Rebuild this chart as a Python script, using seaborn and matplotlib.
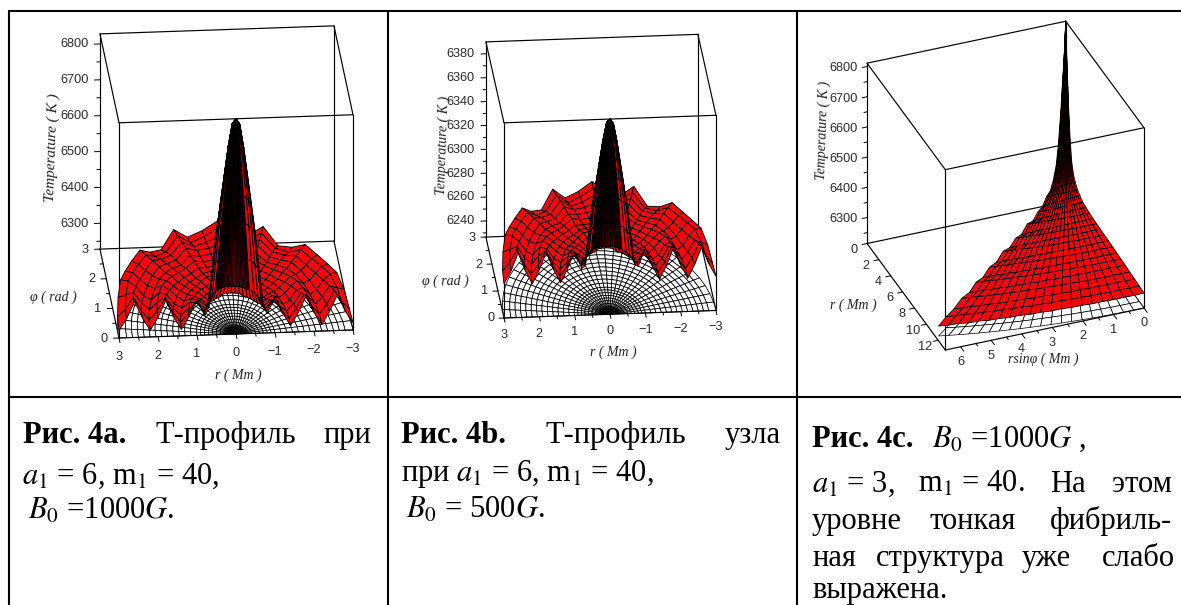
import numpy as np
import matplotlib
matplotlib.use("Agg")
import matplotlib.pyplot as plt
import seaborn as sns
from mpl_toolkits.mplot3d import proj3d

sns.set_theme(style="white")
plt.rcParams["font.family"] = ["Liberation Serif", "DejaVu Sans"]
plt.rcParams["mathtext.fontset"] = "stix"

W, H, DPI = 1181, 605, 100

# ---- values -----------------------------------------------------------
R_NODES = [0, .1, .2, .3, .4, .5, .6, .7, .8, 1.0, 1.2, 1.4, 1.6, 1.8, 2.0, 2.2, 2.4, 2.6, 2.8, 3.0]
PHI_NODES = [0, 7.5, 15, 22.5, 30, 37.5, 45, 52.5, 60, 67.5, 75, 82.5, 90]
# central spike: fraction of the height above the surface level, against radius
CORE = [1, .97, .86, .72, .58, .44, .26, .10, .02, 0, 0, 0, 0, 0, 0, 0, 0, 0, 0, 0]
# fibril relief (rows: angle, columns: radius)
RELIEF = [
    [.3, .3, .3, .3, .2, .1, 0, .2, .7, 1.6, .7, 0, .7, 1.6, .7, 0, .7, 1.6, .7, .05],
    [.3, .3, .3, .3, .2, .1, .1, .3, .7, 1.3, .6, .1, .6, 1.3, .6, .1, .6, 1.3, .6, .17],
    [.3, .3, .3, .3, .2, .2, .2, .3, .6, 1.0, .6, .2, .5, 1.0, .7, .2, .5, 1.0, .8, .6],
    [.4, .4, .4, .3, .3, .2, .2, .4, .6, .8, .7, .3, .4, .8, .8, .3, .4, .8, 1.0, .95],
    [.4, .4, .4, .4, .3, .3, .3, .4, .6, .7, .7, .4, .5, .7, .8, .5, .5, .7, .9, .85],
    [.4, .4, .4, .4, .3, .3, .3, .4, .5, .6, .6, .5, .5, .6, .7, .6, .6, .7, .85, .85],
    [.4, .4, .4, .4, .3, .3, .3, .4, .5, .6, .6, .5, .5, .5, .6, .6, .7, .8, .9, .95],
    [.4, .4, .4, .4, .4, .3, .3, .4, .5, .6, .6, .5, .5, .5, .5, .5, .5, .5, .4, .4],
    [.4, .4, .4, .4, .4, .3, .3, .4, .5, .6, .6, .6, .5, .5, .5, .4, .4, .4, .3, .15],
    [.5, .5, .4, .4, .4, .4, .4, .4, .5, .6, .7, .7, .6, .6, .7, .7, .8, .85, .9, .95],
    [.5, .5, .4, .4, .4, .4, .4, .5, .6, .6, .7, .7, .6, .5, .5, .5, .5, .4, .3, .3],
    [.5, .5, .5, .4, .4, .4, .4, .5, .6, .7, .7, .7, .6, .5, .5, .5, .5, .5, .5, .5],
    [.5, .5, .5, .5, .4, .4, .4, .5, .6, .7, .7, .7, .6, .6, .6, .6, .7, .8, .9, .95],
]
A_BASE, A_AMP = .03, .085
B_BASE, B_AMP = .17, .10
A_ZTICKS = [6300, 6400, 6500, 6600, 6700, 6800]
A_ZMINOR = [6250, 6350, 6450, 6550, 6650, 6750]
B_ZTICKS = [6240, 6260, 6280, 6300, 6320, 6340, 6360, 6380]
B_ZMINOR = [6230, 6250, 6270, 6290, 6310, 6330, 6350, 6370]
A_ZLIM = (6228, 6828)
B_ZLIM = (6226.5, 6390)
AB_XTICKS = [3, 2, 1, 0, -1, -2, -3]
AB_YTICKS = [0, 1, 2, 3]

C_R = [0, .125, .25, .375, .5, .75, 1, 1.3, 1.6, 2, 2.4, 2.9, 3.4, 4, 4.6, 5.2, 5.8, 6.5, 7.2, 7.9, 8.6, 9.3,
       10, 10.8, 11.6, 12.4, 13.2]
C_HEIGHT = [1.0, .86, .75, .65, .54, .38, .27, .21, .18, .155, .14, .125, .12, .116, .112, .11, .108, .106,
            .105, .103, .10, .098, .096, .093, .09, .087, .083]
C_RING_AMP = [0, 0, 0, 0, 0, .01, .015, .02, .03, .015, .03, .02, .035, .015, .035, .02, .035, .015, .035,
              .02, .035, .02, .035, .02, .03, .025, .028]
C_PHI = [0, 1.45, 2.9, 4.35, 5.8, 7.25, 8.7, 10.15, 11.6, 13.05, 14.5, 15.95, 17.4, 18.85, 20.3, 21.75,
         23.2, 24.65, 26.1, 27.55, 29]
C_RAY_WAVE = [0, -.05, 0, -.1, -.05, -.15, -.1, -.2, -.15, -.3, -.25, -.4, -.35, -.5, -.5, -.65, -.6, -.8, -.75, -.95, -1.0]
C_ZTICKS = [6300, 6400, 6500, 6600, 6700, 6800]
C_ZMINOR = [6250, 6350, 6450, 6550, 6650, 6750]
C_ZLIM = (6214, 6811)
C_XTICKS = [6, 5, 4, 3, 2, 1, 0]
C_YTICKS = [0, 2, 4, 6, 8, 10, 12]

fig = plt.figure(figsize=(W / DPI, H / DPI), dpi=DPI)

# ---- page / table ------------------------------------------------------
bg = fig.add_axes([0, 0, 1, 1], zorder=0)
bg.set_xlim(0, W)
bg.set_ylim(H, 0)
bg.axis("off")
for x in (8.5, 387.5, 796.5):
    bg.plot([x, x], [10.5, H], color="black", lw=1.5, solid_capstyle="butt")
for y in (10.5, 397):
    bg.plot([8, W], [y, y], color="black", lw=1.5, solid_capstyle="butt")

CAP = 22
LINES = [
    (23, 443, "Рис. 4a.", True), (156, 443, "Т-профиль", False), (323, 443, "при", False),
    (22, 484, r"$a_1$ = 6, m$_1$ = 40,", False),
    (28, 519, r"$B_0$ =1000$G$.", False),
    (401, 443, "Рис. 4b.", True), (545, 443, "Т-профиль", False), (725, 443, "узла", False),
    (401, 481, r"при $a_1$ = 6, m$_1$ = 40,", False),
    (406, 518, r"$B_0$ = 500$G$.", False),
    (812, 447, "Рис. 4c.", True), (932, 447, r"$B_0$ =1000$G$ ,", False),
    (812, 492, r"$a_1$ = 3,", False), (918, 492, r"m$_1$ = 40.", False), (1050, 492, "На", False), (1112, 492, "этом", False),
    (812, 529, "уровне", False), (930, 529, "тонкая", False), (1050, 529, "фибриль-", False),
    (812, 566, "ная", False), (876, 566, "структура", False), (1022, 566, "уже", False), (1102, 566, "слабо", False),
    (812, 598, "выражена.", False),
]
for x, y, s, bold in LINES:
    bg.text(x, y, s, fontsize=CAP, fontweight="bold" if bold else "normal", va="baseline", ha="left", color="black")


# ---- 3D helpers --------------------------------------------------------
def project(ax, p):
    ax.apply_aspect()
    x, y, _ = proj3d.proj_transform(p[0], p[1], p[2], ax.get_proj())
    return ax.transData.transform((x, y))


def make_axes(xlim, ylim, zlim, elev, azim, aspect, p0, p1, t0, t1):
    """Orthographic 3D axes whose box edge p0-p1 falls on pixels t0-t1."""
    side = 340
    ax = fig.add_axes([0, 0, side / W, side / H], projection="3d", zorder=2)
    ax.set_proj_type("ortho")
    ax.view_init(elev=elev, azim=azim)
    ax.set_xticks([])
    ax.set_yticks([])
    ax.set_zticks([])
    ax.set_xlim(*xlim, view_margin=0)
    ax.set_ylim(*ylim, view_margin=0)
    ax.set_zlim(*zlim, view_margin=0)
    ax.set_axis_off()
    ax.set_facecolor("none")
    ax.computed_zorder = False
    ax.set_box_aspect(aspect, zoom=1)
    d = project(ax, p1) - project(ax, p0)
    zoom = np.hypot(t1[0] - t0[0], t1[1] - t0[1]) / np.hypot(*d)
    ax.set_box_aspect(aspect, zoom=zoom)
    a = project(ax, p0)
    ax.set_position([(t0[0] - a[0]) / W, ((H - t0[1]) - a[1]) / H, side / W, side / H])
    return ax


def box(ax, xl, yl, zl):
    x0, x1 = xl
    y0, y1 = yl
    z0, z1 = zl
    kw = dict(color="black", lw=.85)
    for xs, ys, zs in [([x0, x1], [y1, y1], [z0, z0]), ([x0, x0], [y0, y1], [z0, z0]), ([x1, x1], [y0, y1], [z0, z0]),
                       ([x0, x0], [y1, y1], [z0, z1]), ([x1, x1], [y1, y1], [z0, z1])]:
        ax.plot(xs, ys, zs, zorder=1, **kw)
    for xs, ys, zs in [([x0, x0], [y0, y0], [z0, z1]), ([x1, x1], [y0, y0], [z0, z1])]:
        ax.plot(xs, ys, zs, zorder=2.5, **kw)
    for xs, ys, zs in [([x0, x1], [y0, y0], [z1, z1]), ([x0, x1], [y1, y1], [z1, z1]), ([x0, x0], [y0, y1], [z1, z1]),
                       ([x1, x1], [y0, y1], [z1, z1]), ([x0, x1], [y0, y0], [z0, z0])]:
        ax.plot(xs, ys, zs, zorder=4, **kw)


TICK = dict(fontsize=9.2, color="#2a2a2a", family=["Liberation Sans", "DejaVu Sans"], zorder=6, clip_on=False)
TLINE = dict(color="black", lw=.7, zorder=4)


def fmt(v):
    return str(v).replace("-", "\u2212")


def label(ax, x, y, z, v, ha="center"):
    """Tick label at a point of the 3D axes, written as plain 2D text."""
    px, py = project(ax, (x, y, z))
    bg.text(px, H - py, fmt(v), ha=ha, va="center", **TICK)


def polar_panel(zlim, zticks, zminor, base, amp, elev, azim, aspect, t0, t1, xtick_off, ztick_x):
    xlim, ylim = (3, -3), (0, 3)
    ax = make_axes(xlim, ylim, zlim, elev, azim, aspect, (3, 0, zlim[0]), (-3, 0, zlim[0]), t0, t1)
    box(ax, xlim, ylim, zlim)
    span = zlim[1] - zlim[0]
    r = np.array(R_NODES)
    half = np.array(PHI_NODES)
    phi = np.radians(np.concatenate([half, 180 - half[-2::-1]]))
    rel = np.array(RELIEF)
    rel = np.vstack([rel, rel[-2::-1]])
    core = np.array(CORE)
    spike = base + (1 - base) * core
    Tf = zlim[0] + span * np.maximum(spike[None, :], base + amp * rel)
    PP, RR = np.meshgrid(phi, r, indexing="ij")
    X, Y = RR * np.cos(PP), RR * np.sin(PP)

    # white floor grid: plain polar mesh at the bottom of the box
    fr = np.array([0, .04, .08, .12, .16, .2, .25, .3, .4, .5, .6, .7, .8, .9, 1.0, 1.15, 1.3, 1.45, 1.6, 1.75, 1.9,
                   2.05, 2.2, 2.35, 2.5, 2.65, 2.8, 3.0])
    fp = np.radians(np.arange(0, 180.1, 6))
    FP, FR = np.meshgrid(fp, fr, indexing="ij")
    ax.plot_surface(FR * np.cos(FP), FR * np.sin(FP), np.full(FR.shape, zlim[0]), rstride=1, cstride=1,
                    color="white", edgecolor="black", linewidth=.55, shade=False, zorder=2)
    ax.plot_surface(X, Y, Tf, rstride=1, cstride=1, color="#ff0000", edgecolor="black", linewidth=.6,
                    shade=False, zorder=3)

    # the spike is radially symmetric: its own dense spokes give the black core
    n = 8
    dense = np.radians(np.concatenate([[0, 14, 28, 40], np.arange(50, 130.1, 3), [140, 152, 166, 180]]))
    DP, DR = np.meshgrid(dense, r[:n], indexing="ij")
    ax.plot_surface(DR * np.cos(DP), DR * np.sin(DP),
                    zlim[0] + span * np.maximum(spike[:n][None, :], base + amp * .4 * np.ones((len(dense), 1))),
                    rstride=1, cstride=1, color="#ff0000", edgecolor="black", linewidth=.7, shade=False, zorder=3.5)

    for v in AB_XTICKS:
        ax.plot([v, v], [0, -.16], [zlim[0], zlim[0]], **TLINE)
        label(ax, v, 0, zlim[0] - xtick_off * span, v)
    for v in np.arange(-2.5, 3, 1):
        ax.plot([v, v], [0, -.1], [zlim[0], zlim[0]], **TLINE)
    for v in AB_YTICKS:
        ax.plot([3, 3.14], [v, v], [zlim[0], zlim[0]], **TLINE)
        label(ax, 3.38, v, zlim[0], v)
    for v in (.5, 1.5, 2.5):
        ax.plot([3, 3.08], [v, v], [zlim[0], zlim[0]], **TLINE)
    for v in zticks:
        ax.plot([3, 3.14], [3, 3], [v, v], **TLINE)
        label(ax, ztick_x, 3, v, v, ha="right")
    for v in zminor:
        ax.plot([3, 3.08], [3, 3], [v, v], **TLINE)
    return ax


polar_panel(A_ZLIM, A_ZTICKS, A_ZMINOR, A_BASE, A_AMP, 23.6, -94.9, (235, 223, 235), (119, 338), (353, 330), .088, 3.28)
polar_panel(B_ZLIM, B_ZTICKS, B_ZMINOR, B_BASE, B_AMP, 23.5, -95.1, (213, 204, 213), (504, 318), (716, 311), .087, 3.32)

# ---- panel c -----------------------------------------------------------
xl, yl, zl = (6.5, 0), (13.2, 0), C_ZLIM
axc = make_axes(xl, yl, zl, 32.4, -111.5, (1, 1, 1), (6.5, 13.2, zl[0]), (0, 13.2, zl[0]), (945.3, 350), (1144, 308))
box(axc, xl, yl, zl)
sp = zl[1] - zl[0]
r = np.array(C_R)
ph = np.radians(C_PHI)
PP, RR = np.meshgrid(ph, r, indexing="ij")
X, Y = RR * np.sin(PP), RR * np.cos(PP)
hh = np.array(C_HEIGHT)[None, :] + np.array(C_RING_AMP)[None, :] * np.array(C_RAY_WAVE)[:, None]
axc.plot_surface(X, Y, np.full(X.shape, zl[0]), rstride=1, cstride=1, color="white", edgecolor="black",
                 linewidth=.5, shade=False, zorder=2)
axc.plot_surface(X, Y, zl[0] + sp * hh, rstride=1, cstride=1, color="#ff0000", edgecolor="black", linewidth=.55,
                 shade=False, zorder=3)
for v in C_XTICKS:
    axc.plot([v, v], [13.2, 13.75], [zl[0], zl[0]], **TLINE)
    label(axc, v, 13.2, zl[0] - .085 * sp, v)
for v in (.5, 1.5, 2.5, 3.5, 4.5, 5.5):
    axc.plot([v, v], [13.2, 13.5], [zl[0], zl[0]], **TLINE)
for v in C_YTICKS:
    axc.plot([6.5, 6.66], [v, v], [zl[0], zl[0]], **TLINE)
    label(axc, 6.92, v, zl[0] - .02 * sp, v)
for v in C_ZTICKS:
    axc.plot([6.5, 6.66], [0, 0], [v, v], **TLINE)
    label(axc, 6.8, 0, v, v, ha="right")
for v in C_ZMINOR:
    axc.plot([6.5, 6.6], [0, 0], [v, v], **TLINE)

# ---- axis titles --------------------------------------------------------
ITAL = dict(style="italic", color="#222222", ha="center", va="center", zorder=6)
for x, y, s in [(238, 375, "r ( Mm )"), (53, 297, "φ ( rad )"), (613, 352, "r ( Mm )"), (445, 281, "φ ( rad )"),
                (853, 305, "r ( Mm )"), (1043, 359, "rsinφ ( Mm )")]:
    bg.text(x, y, s, fontsize=10, **ITAL)
for x, y, rot, size in [(52, 147, 88, 11), (443, 145, 88, 10), (823, 130, 88, 10)]:
    bg.text(x, y, "Temperature ( K )", rotation=rot, fontsize=size, **ITAL)

fig.savefig("out.png", dpi=DPI)
